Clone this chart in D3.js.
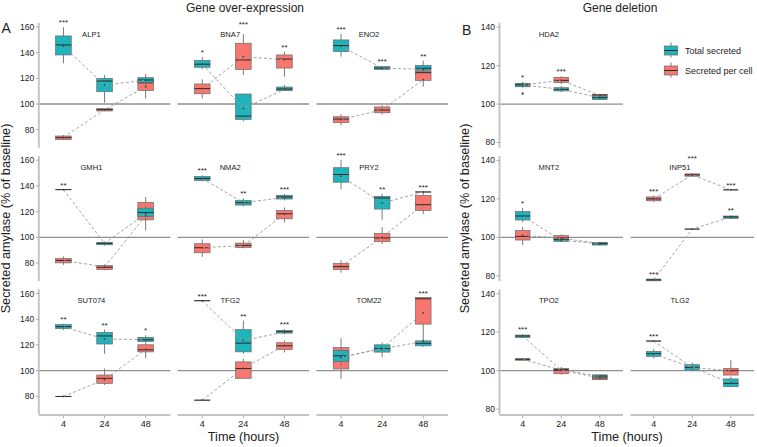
<!DOCTYPE html>
<html><head><meta charset="utf-8">
<script src="https://cdn.jsdelivr.net/npm/d3@7"></script>
<style>
body{margin:0;background:#fff}
svg{display:block}
text{font-family:"Liberation Sans",Arial,sans-serif;fill:#222}
</style>
</head><body>
<svg id="chart" width="757" height="447"></svg>
<script>
// ---------------- DATA ----------------
const times = ["4", "24", "48"];
const genes = ["ALP1","BNA7","ENO2","GMH1","NMA2","PRY2","SUT074","TFG2","TOM22",
               "HDA2","MNT2","INP51","TPO2","TLG2"];
const seriesNames = ["Total secreted", "Secreted per cell"];
const yTicksA = [80, 100, 120, 140, 160];
const yTicksB = [80, 100, 120, 140];

// box statistics per time point: [lower whisker, q1, median, q3, upper whisker]
const totalBox = [
  [[131.7,138.2,146,153,159.7],[101,109.6,117.9,120,122.6],[113,116.9,118.7,120.5,123.4]],
  [[127,128.6,131,134,136.5],[86.5,88,90.6,107.8,107.8],[110.4,110.4,111.7,113.2,114.8]],
  [[136.9,140.8,145.5,149.9,154.5],[126.5,127,128,129.1,129.6],[125,126,127.8,130.1,133.8]],
  [[137.1,137.1,137.1,137.1,137.1],[93.5,94.2,95.3,96.1,96.8],[113,116.2,119.3,122.7,125]],
  [[143.5,144.2,145.8,147.4,148.4],[124,125.1,127,128.8,130.4],[128.8,129.8,131.4,132.7,133.8]],
  [[137.4,142.9,148.9,154.2,160.2],[113.6,122,130.6,131.9,134],[135.3,135.3,135.3,135.3,135.3]],
  [[131.5,132.7,134.2,135.8,136.5],[113.1,120.7,127,129.8,131.9],[121.5,122.7,124,125.9,127.5]],
  [[154.4,154.4,154.4,154.4,154.4],[113,114.6,121.4,131.9,139],[128.2,129.2,130.3,131.3,132.5]],
  [[103,107.1,111.5,115.7,118],[110.4,114.4,117.2,120.1,122],[118.5,119.3,121.3,123.2,124.5]],
  [[109,109,110,110.7,111.5],[106.2,106.8,107.6,108.5,109.4],[102,102.4,103.3,104.2,104.5]],
  [[107.8,109,111.1,113.4,115.3],[97.5,97.9,98.8,99.5,99.8],[95.8,96,96.7,97.4,97.6]],
  [[77.2,77.4,77.9,78.3,78.6],[104.3,104.3,104.3,104.3,104.3],[109.7,109.9,110.6,111.1,111.4]],
  [[117,117.3,118,118.5,118.8],[100.5,100.5,100.5,100.5,100.5],[96.2,96.5,97.2,97.8,98.1]],
  [[106.4,107.4,108.8,110,111.2],[99.7,100.3,101.7,103.1,104.2],[91.3,91.7,93.4,95.7,96.9]]
];
const cellBox = [
  [[71.9,72.5,73.8,75.1,75.8],[94.5,94.6,95.6,96.4,96.6],[104.2,110.6,116.5,118.5,121]],
  [[104.4,108,112,115.6,119.2],[122.6,127,134.3,147.3,154.5],[121.3,128,135,138.2,140.8]],
  [[83.4,85.5,88.3,90.1,92],[91.7,93.2,95.3,97.7,99],[113.5,118.4,124.4,125.5,127.8]],
  [[78.6,80.1,82,83.5,85.1],[74.4,74.9,76.7,78,79],[105.2,113.6,120.1,127.2,131.4]],
  [[84.8,88,91.9,95,98.4],[91.4,92.1,93.7,95.5,97.9],[111.5,114.4,118.3,120.9,123.3]],
  [[72.5,74.9,77.2,79.6,82.2],[94.8,96.6,99.5,103.1,107.9],[118.1,120.9,125.4,132.7,135.9]],
  [[79.9,79.9,79.9,79.9,79.9],[88.8,90.1,94,96.6,101.6],[109.7,114.6,116.2,120.1,121.4]],
  [[77,77,77,77,77],[94,94,101.6,106.8,109.1],[114.1,116.4,119.3,121.7,123.5]],
  [[93.5,101.3,108.4,118,125.3],[114.5,115.5,117,119,120],[123.2,136.2,155.9,156.9,156.9]],
  [[108.5,109.2,110,110.6,111.2],[110.4,111.1,112.3,113.9,114.5],[103.5,103.8,104.7,105,105.3]],
  [[96,98.6,100.5,103.5,105.4],[98.2,98.8,99.7,100.9,101.5],[96.3,96.5,96.8,97.1,97.3]],
  [[118.3,119,120,121,121.7],[131.5,131.8,132.5,133,133.3],[124.7,124.7,124.7,124.7,124.7]],
  [[105.2,105.4,105.9,106.2,106.4],[97.9,98.4,100.2,101.2,101.9],[95,95.3,96.2,96.9,97.2]],
  [[115.4,115.4,115.4,115.4,115.4],[101,101.3,101.6,101.9,102.1],[97.7,97.7,100,101.2,105.5]]
];
// means (connected by dashed lines)
const totalMean = [
  [145,114.8,118.5],[131,96.6,111.4],[145,128,127],[137.1,95.2,118.3],[145.8,127,131],
  [147.6,126.7,135.3],[134.2,124.6,124],[154.4,123.5,130],[110.4,117,122.7],
  [110,107.6,103.3],[111,98.5,96.7],[77.9,104.3,110.6],[118,100.3,97.2],[108.6,101.7,93.5]
];
const cellMean = [
  [74,95.5,113.5],[112,136.9,134.5],[88,95.5,119],[82,77,116.7],[92,93.5,118],
  [77.5,100,125.4],[79.9,93,116.5],[77,101.8,119.5],[110.4,117.5,144.9],
  [110,112.3,104.5],[101,99.6,96.8],[120,132.5,124.7],[105.9,100.2,96.2],[115.4,101.6,100]
];
// significance labels
const totalStars = [
  ["***","",""],["*","",""],["***","***","**"],["**","",""],["***","**","***"],
  ["***","**","***"],["**","**","*"],["***","**","***"],["","",""],
  ["*","",""],["*","",""],["***","","**"],["***","",""],["","",""]
];
const cellStars = [
  ["","",""],["","***","**"],["","",""],["","",""],["","",""],
  ["","",""],["","",""],["","",""],["","","***"],
  ["","***",""],["","",""],["***","***","***"],["","",""],["***","",""]
];
// outlier points: [gene index, time index, value]
const outliers = [[9, 0, 105.4]];

// ---------------- LAYOUT ----------------
const colors = ["#1FB4BB", "#F8766D"];
const svg = d3.select("#chart");
const rowTop = r => 22.7 + r * 133.3;
const rowH = 125;
const groupGeo = {
  A: {left: 38.8, width: 131.5, pitch: 138.8, domain: [66, 163.3], ticks: yTicksA},
  B: {left: 499.5, width: 123.5, pitch: 131, domain: [77.3, 142.3], ticks: yTicksB}
};
// grid cell for each gene (group, row, col)
const cells = [
  ["A",0,0],["A",0,1],["A",0,2],["A",1,0],["A",1,1],["A",1,2],["A",2,0],["A",2,1],["A",2,2],
  ["B",0,0],["B",1,0],["B",1,1],["B",2,0],["B",2,1]
];

function overlap(a, b) {
  return a.x < b.x + b.width && b.x < a.x + a.width && a.y < b.y + b.height && b.y < a.y + a.height;
}

genes.forEach((gene, i) => {
  const [grp, r, c] = cells[i];
  const G = groupGeo[grp];
  const L = G.left + c * G.pitch, R = L + G.width;
  const top = rowTop(r), bot = top + rowH;
  const x = d3.scalePoint().domain(times).range([L, R]).padding(0.6);
  const y = d3.scaleLinear().domain(G.domain).range([bot, top]);
  const step = x.step();
  const bw = step * 0.38;
  const g = svg.append("g");

  // reference line at 100
  g.append("line").attr("x1", L).attr("x2", R).attr("y1", y(100)).attr("y2", y(100))
    .attr("stroke", "#8f8f8f").attr("stroke-width", 1.3);

  // y axis on first column
  if (c === 0) {
    g.append("line").attr("x1", L).attr("x2", L).attr("y1", top).attr("y2", bot)
      .attr("stroke", "#c4c4c4").attr("stroke-width", 2);
    G.ticks.forEach(t => {
      g.append("line").attr("x1", L - 3).attr("x2", L).attr("y1", y(t)).attr("y2", y(t))
        .attr("stroke", "#999").attr("stroke-width", 0.8);
      g.append("text").attr("x", L - 4.5).attr("y", y(t)).attr("dy", "0.35em")
        .attr("text-anchor", "end").attr("font-size", 8.5).text(t);
    });
  }
  // x axis on bottom row
  if (r === 2) {
    g.append("line").attr("x1", L).attr("x2", R).attr("y1", bot + 0.7).attr("y2", bot + 0.7)
      .attr("stroke", "#c4c4c4").attr("stroke-width", 2);
    times.forEach(t => {
      g.append("line").attr("x1", x(t)).attr("x2", x(t)).attr("y1", bot + 1.5).attr("y2", bot + 4)
        .attr("stroke", "#999").attr("stroke-width", 0.8);
      g.append("text").attr("x", x(t)).attr("y", bot + 13).attr("text-anchor", "middle")
        .attr("font-size", 9).text(t);
    });
  }

  // gene label
  const label = g.append("text").attr("x", x(times[0]) + 0.68 * step).attr("y", top + 14)
    .attr("text-anchor", "middle").attr("font-size", 7.6).text(gene);

  // boxes: per cell first, total on top
  const boxSets = [[cellBox[i], colors[1]], [totalBox[i], colors[0]]];
  boxSets.forEach(([stats, col]) => {
    stats.forEach((s, k) => {
      const cx = x(times[k]);
      const [lo, q1, md, q3, hi] = s;
      g.append("line").attr("x1", cx).attr("x2", cx).attr("y1", y(hi)).attr("y2", y(q3))
        .attr("stroke", "#7a7a7a").attr("stroke-width", 1);
      g.append("line").attr("x1", cx).attr("x2", cx).attr("y1", y(q1)).attr("y2", y(lo))
        .attr("stroke", "#7a7a7a").attr("stroke-width", 1);
      g.append("rect").attr("x", cx - bw / 2).attr("width", bw)
        .attr("y", y(q3)).attr("height", Math.max(0.01, y(q1) - y(q3)))
        .attr("fill", col).attr("stroke", "#6a6a6a").attr("stroke-width", 0.7);
      g.append("line").attr("x1", cx - bw / 2).attr("x2", cx + bw / 2).attr("y1", y(md)).attr("y2", y(md))
        .attr("stroke", "#2a2a2a").attr("stroke-width", 1);
    });
  });

  // dashed mean lines + mean points
  [totalMean[i], cellMean[i]].forEach(m => {
    const line = d3.line().x((d, k) => x(times[k])).y(d => y(d));
    g.append("path").attr("d", line(m)).attr("fill", "none")
      .attr("stroke", "#9a9a9a").attr("stroke-width", 0.9).attr("stroke-dasharray", "3,2.2");
    m.forEach((v, k) => g.append("circle").attr("cx", x(times[k])).attr("cy", y(v)).attr("r", 0.9).attr("fill", "#444"));
  });

  // outliers
  outliers.filter(o => o[0] === i).forEach(o => {
    g.append("circle").attr("cx", x(times[o[1]])).attr("cy", y(o[2])).attr("r", 1.1).attr("fill", "#333");
  });

  // significance stars (lifted clear of the gene label if they collide)
  const lb = label.node().getBBox();
  [[totalStars[i], totalBox[i]], [cellStars[i], cellBox[i]]].forEach(([st, stats]) => {
    st.forEach((s, k) => {
      if (!s) return;
      const t = g.append("text").attr("x", x(times[k])).attr("y", y(stats[k][4]) - 2)
        .attr("text-anchor", "middle").attr("font-size", 8).attr("fill", "#333").text(s);
      const sb = t.node().getBBox();
      if (overlap(sb, lb)) {
        const shift = (sb.y + sb.height) - lb.y + 0.3;
        t.attr("y", y(stats[k][4]) - 2 - shift);
      }
    });
  });
});

// titles and labels
svg.append("text").attr("x", 245).attr("y", 11.7).attr("text-anchor", "middle").attr("font-size", 12).text("Gene over-expression");
svg.append("text").attr("x", 620).attr("y", 11.7).attr("text-anchor", "middle").attr("font-size", 12).text("Gene deletion");
svg.append("text").attr("x", 1.5).attr("y", 32.7).attr("font-size", 14).text("A");
svg.append("text").attr("x", 462).attr("y", 35).attr("font-size", 14).text("B");
[[10, 218.5], [469, 218.5]].forEach(([bx, cy]) => {
  svg.append("text").attr("transform", `translate(${bx},${cy}) rotate(-90)`).attr("text-anchor", "middle")
    .attr("font-size", 12.7).text("Secreted amylase (% of baseline)");
});
[243.5, 627].forEach(cx => {
  svg.append("text").attr("x", cx).attr("y", 441).attr("text-anchor", "middle").attr("font-size", 12.7).text("Time (hours)");
});

// legend
const legY = [50.5, 70.5];
seriesNames.forEach((name, k) => {
  const lg = svg.append("g");
  const cx = 671, cy = legY[k];
  lg.append("line").attr("x1", cx).attr("x2", cx).attr("y1", cy - 8).attr("y2", cy + 7)
    .attr("stroke", "#7a7a7a").attr("stroke-width", 1);
  lg.append("rect").attr("x", cx - 6.7).attr("y", cy - 4.5).attr("width", 13.4).attr("height", 9)
    .attr("fill", colors[k]).attr("stroke", "#6a6a6a").attr("stroke-width", 0.7);
  lg.append("line").attr("x1", cx - 6.7).attr("x2", cx + 6.7).attr("y1", cy).attr("y2", cy)
    .attr("stroke", "#2a2a2a").attr("stroke-width", 1);
  lg.append("text").attr("x", 685).attr("y", cy).attr("dy", "0.35em").attr("font-size", 9).text(name);
});
</script>
</body></html>
